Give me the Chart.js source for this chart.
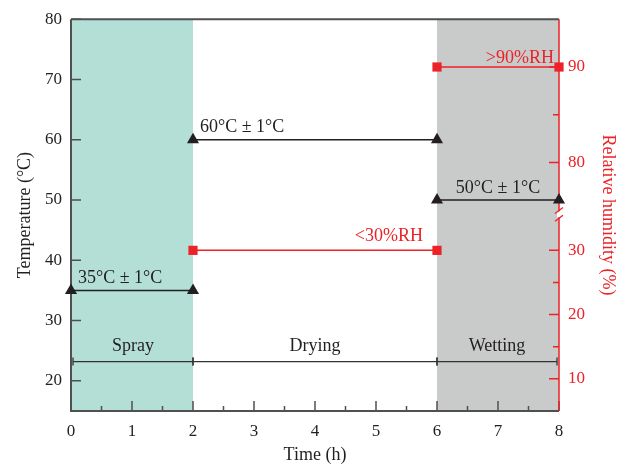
<!DOCTYPE html>
<html><head><meta charset="utf-8">
<script src="https://cdn.jsdelivr.net/npm/chart.js@4.4.0/dist/chart.umd.min.js"></script>
<style>html,body{margin:0;padding:0;background:#fff}</style>
</head><body>
<canvas id="c" width="625" height="464"></canvas>
<script>
// ---- data ----
const stageNames = ['Spray', 'Drying', 'Wetting'];
const stageStart = [0, 2, 6];
const stageEnd = [2, 6, 8];
const tempStart = [0, 2, 6];
const tempEnd = [2, 6, 8];
const tempValues = [35, 60, 50];
const tempLabels = ['35°C ± 1°C', '60°C ± 1°C', '50°C ± 1°C'];
const rhStart = [2, 6];
const rhEnd = [6, 8];
const rhValues = [30, 90];
const rhLabels = ['<30%RH', '>90%RH'];
const xTicks = [0, 1, 2, 3, 4, 5, 6, 7, 8];
const xMinorTicks = [0.5, 1.5, 2.5, 3.5, 4.5, 5.5, 6.5, 7.5];
const tempTicks = [20, 30, 40, 50, 60, 70, 80];
const rhTicks = [10, 20, 30, 80, 90];
const rhMinorTicks = [15, 25, 85];
const rhRanges = [[5, 35], [75, 95]];

// ---- styles ----
const FONT = '"Liberation Serif", "Times New Roman", serif';
const INK = '#231f20';
const AXIS = '#505050';
const RED = '#ec2227';
const SHADE = ['#b3dfd6', null, '#c9caca'];
const BRACKET_LEVEL = 23.2;           // temperature level of the stage brackets
const GAP_FRACTIONS = [[0, 0.492], [0.512, 1]]; // where rhRanges sit on the axis
const tempLabelAlign = ['left', 'left', 'center'];
const tempLabelDx = [7, 7, 0];
const rhLabelDx = [-14, -5];
const rhLabelDy = [-14, -9];

// ---- broken linear scale ----
class BrokenScale extends Chart.LinearScale {
  determineDataLimits() { this.min = this.options.min; this.max = this.options.max; }
  buildTicks() { return rhTicks.map(v => ({ value: v })); }
  _dec(v) {
    for (let i = 0; i < rhRanges.length; i++) {
      const [lo, hi] = rhRanges[i];
      const [d0, d1] = GAP_FRACTIONS[i];
      if (v <= hi || i === rhRanges.length - 1) {
        if (v < lo && i > 0) {
          const [, phi] = rhRanges[i - 1];
          const [, pd1] = GAP_FRACTIONS[i - 1];
          return pd1 + (v - phi) / (lo - phi) * (d0 - pd1);
        }
        return d0 + (v - lo) / (hi - lo) * (d1 - d0);
      }
    }
  }
  getPixelForValue(v) {
    if (v === null || v === undefined || isNaN(v)) return NaN;
    return this.getPixelForDecimal(this._dec(v));
  }
  getValueForPixel(p) {
    const d = this.getDecimalForPixel(p);
    for (let i = 0; i < rhRanges.length; i++) {
      const [lo, hi] = rhRanges[i];
      const [d0, d1] = GAP_FRACTIONS[i];
      if (d <= d1 || i === rhRanges.length - 1) return lo + (d - d0) / (d1 - d0) * (hi - lo);
    }
  }
}
BrokenScale.id = 'broken';
BrokenScale.defaults = {};
Chart.register(BrokenScale);

function segData(starts, ends, vals) {
  const out = [];
  starts.forEach((s, i) => {
    if (i) out.push({ x: s, y: null });
    out.push({ x: s, y: vals[i] }, { x: ends[i], y: vals[i] });
  });
  return out;
}

const decor = {
  id: 'decor',
  beforeDatasetsDraw(chart) {
    const { ctx, chartArea: a, scales: { x, y, y2 } } = chart;
    ctx.save();
    // shaded stages
    stageStart.forEach((s, i) => {
      if (!SHADE[i]) return;
      const x0 = x.getPixelForValue(s), x1 = x.getPixelForValue(stageEnd[i]);
      ctx.fillStyle = SHADE[i];
      ctx.fillRect(x0, a.top, x1 - x0, a.bottom - a.top);
    });
    // frame
    ctx.lineCap = 'butt';
    ctx.strokeStyle = AXIS; ctx.lineWidth = 2;
    ctx.beginPath();
    ctx.moveTo(a.left, a.top); ctx.lineTo(a.left, a.bottom); ctx.lineTo(a.right, a.bottom);
    ctx.moveTo(a.left, a.top); ctx.lineTo(a.right, a.top);
    ctx.stroke();
    // left / bottom ticks
    ctx.lineWidth = 1.5;
    ctx.beginPath();
    tempTicks.forEach(v => { const p = y.getPixelForValue(v); ctx.moveTo(a.left, p); ctx.lineTo(a.left + 10, p); });
    xTicks.forEach(v => { const p = x.getPixelForValue(v); ctx.moveTo(p, a.bottom); ctx.lineTo(p, a.bottom - 10); });
    xMinorTicks.forEach(v => { const p = x.getPixelForValue(v); ctx.moveTo(p, a.bottom); ctx.lineTo(p, a.bottom - 5); });
    ctx.stroke();
    // right axis (red)
    ctx.strokeStyle = RED; ctx.lineWidth = 1.5;
    ctx.beginPath();
    ctx.moveTo(a.right, a.top); ctx.lineTo(a.right, a.bottom);
    rhTicks.forEach(v => { const p = y2.getPixelForValue(v); ctx.moveTo(a.right, p); ctx.lineTo(a.right - 10, p); });
    rhMinorTicks.forEach(v => { const p = y2.getPixelForValue(v); ctx.moveTo(a.right, p); ctx.lineTo(a.right - 6, p); });
    ctx.stroke();
    // break marks
    const yb1 = y2.getPixelForValue(rhRanges[0][1]);
    const yb2 = y2.getPixelForValue(rhRanges[1][0]);
    ctx.fillStyle = '#ffffff';
    ctx.fillRect(a.right - 2, yb2 + 1, 4, yb1 - yb2 - 2);
    ctx.lineWidth = 1.3;
    ctx.beginPath();
    [yb1, yb2].forEach(yy => { ctx.moveTo(a.right - 4, yy + 3); ctx.lineTo(a.right + 4, yy - 3); });
    ctx.stroke();
    // stage brackets
    const by = y.getPixelForValue(BRACKET_LEVEL);
    ctx.strokeStyle = '#333333'; ctx.lineWidth = 1.3;
    ctx.fillStyle = INK;
    ctx.font = '18px ' + FONT;
    ctx.textAlign = 'center'; ctx.textBaseline = 'middle';
    stageNames.forEach((n, i) => {
      let x0 = x.getPixelForValue(stageStart[i]), x1 = x.getPixelForValue(stageEnd[i]);
      if (i === 0) x0 += 2;
      if (i === stageNames.length - 1) x1 -= 2;
      ctx.beginPath();
      ctx.moveTo(x0, by); ctx.lineTo(x1, by);
      ctx.moveTo(x0, by - 4); ctx.lineTo(x0, by + 4);
      ctx.moveTo(x1, by - 4); ctx.lineTo(x1, by + 4);
      ctx.stroke();
      ctx.fillText(n, (x0 + x1) / 2, by - 15);
    });
    // temperature labels
    tempLabels.forEach((t, i) => {
      const x0 = x.getPixelForValue(tempStart[i]), x1 = x.getPixelForValue(tempEnd[i]);
      const py = y.getPixelForValue(tempValues[i]) - 12;
      ctx.textAlign = tempLabelAlign[i];
      const px = tempLabelAlign[i] === 'center' ? (x0 + x1) / 2 : x0 + tempLabelDx[i];
      ctx.fillText(t, px, py);
    });
    // RH labels
    ctx.fillStyle = RED; ctx.textAlign = 'right';
    rhLabels.forEach((t, i) => {
      const px = x.getPixelForValue(rhEnd[i]) + rhLabelDx[i];
      const py = y2.getPixelForValue(rhValues[i]) + rhLabelDy[i];
      ctx.fillText(t, px, py);
    });
    ctx.restore();
  }
};

new Chart(document.getElementById('c'), {
  type: 'line',
  data: {
    datasets: [
      {
        label: 'Temperature', data: segData(tempStart, tempEnd, tempValues), yAxisID: 'y',
        borderColor: INK, borderWidth: 1.5, pointStyle: 'triangle', pointRadius: 7,
        pointBackgroundColor: INK, pointBorderColor: INK, pointBorderWidth: 0,
        spanGaps: false, clip: false, tension: 0
      },
      {
        label: 'RH', data: segData(rhStart, rhEnd, rhValues), yAxisID: 'y2',
        borderColor: RED, borderWidth: 1.5, pointStyle: 'rect', pointRadius: 6.5,
        pointBackgroundColor: RED, pointBorderColor: RED, pointBorderWidth: 0,
        spanGaps: false, clip: false, tension: 0
      }
    ]
  },
  options: {
    responsive: false, animation: false, events: [],
    layout: { padding: { top: 16, left: 0, right: 0, bottom: 0 }, autoPadding: false },
    plugins: { legend: { display: false }, tooltip: { enabled: false } },
    scales: {
      x: {
        type: 'linear', min: 0, max: 8, position: 'bottom',
        afterBuildTicks: s => { s.ticks = xTicks.map(v => ({ value: v })); },
        afterFit: s => { s.height = 53; },
        grid: { display: false, drawTicks: false }, border: { display: false },
        ticks: { padding: 10, color: INK, font: { family: FONT, size: 17 }, maxRotation: 0, autoSkip: false },
        title: { display: true, text: 'Time (h)', color: INK, font: { family: FONT, size: 18, lineHeight: 1 }, padding: { top: 0, bottom: 0 } }
      },
      y: {
        type: 'linear', position: 'left', min: 15, max: 80,
        afterBuildTicks: s => { s.ticks = tempTicks.map(v => ({ value: v })); },
        afterFit: s => { s.width = 71; },
        grid: { display: false, drawTicks: false }, border: { display: false },
        ticks: { padding: 9, color: INK, font: { family: FONT, size: 17 }, autoSkip: false },
        title: { display: true, text: 'Temperature (°C)', color: INK, font: { family: FONT, size: 18, lineHeight: 1 }, padding: { top: 16, bottom: 0 } }
      },
      y2: {
        type: 'broken', position: 'right', min: 5, max: 95,
        afterFit: s => { s.width = 66; },
        grid: { display: false, drawTicks: false }, border: { display: false },
        ticks: { padding: 9, color: RED, font: { family: FONT, size: 17 }, autoSkip: false, callback: v => String(v) },
        title: { display: true, text: 'Relative humidity (%)', color: RED, font: { family: FONT, size: 18, lineHeight: 1 }, padding: { top: 8, bottom: 0 } }
      }
    }
  },
  plugins: [decor]
});
</script>
</body></html>
